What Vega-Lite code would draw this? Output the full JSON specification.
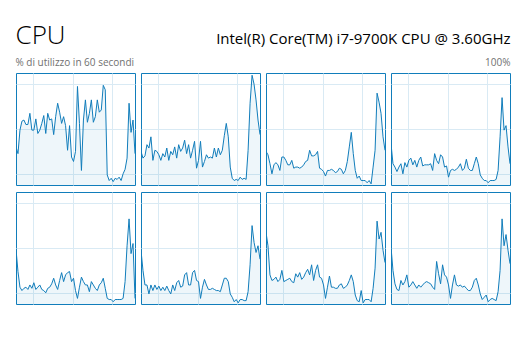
{
  "$schema": "https://vega.github.io/schema/vega-lite/v6.json",
  "background": "white",
  "padding": {"left": 15, "right": 23, "top": 22, "bottom": 5},
  "title": {
    "text": "CPU",
    "subtitle": "% di utilizzo in 60 secondi",
    "anchor": "start",
    "font": "Open Sans",
    "fontSize": 26,
    "fontWeight": 300,
    "color": "#000000",
    "subtitleFont": "Open Sans",
    "subtitleFontSize": 10,
    "subtitleColor": "#707070",
    "subtitlePadding": 8.6,
    "offset": 0,
    "dy": 36
  },
  "vconcat": [
    {
      "title": {
        "text": "Intel(R) Core(TM) i7-9700K CPU @ 3.60GHz",
        "subtitle": "100%",
        "anchor": "end",
        "font": "Open Sans",
        "fontSize": 15,
        "fontWeight": "normal",
        "color": "#000000",
        "subtitleFont": "Open Sans",
        "subtitleFontSize": 10,
        "subtitleColor": "#707070",
        "subtitlePadding": 11,
        "offset": 5
      },
      "data": {
        "values": [
          {"t":0,"c1":34,"c2":30,"c3":30,"c4":37,"c5":49,"c6":48,"c7":64,"c8":51},
          {"t":1,"c1":28,"c2":24,"c3":27,"c4":19,"c5":29,"c6":30,"c7":52,"c8":30},
          {"t":2,"c1":49,"c2":26,"c3":19,"c4":16,"c5":15,"c6":17,"c7":26,"c8":18},
          {"t":3,"c1":57,"c2":36,"c3":10,"c4":12,"c5":12,"c6":17,"c7":21,"c8":13},
          {"t":4,"c1":58,"c2":33,"c3":18,"c4":16,"c5":14,"c6":9,"c7":22,"c8":12},
          {"t":5,"c1":54,"c2":43,"c3":20,"c4":19,"c5":15,"c6":17,"c7":24,"c8":21},
          {"t":6,"c1":54,"c2":22,"c3":18,"c4":10,"c5":13,"c6":12,"c7":20,"c8":17},
          {"t":7,"c1":64,"c2":31,"c3":13,"c4":20,"c5":17,"c6":17,"c7":22,"c8":20},
          {"t":8,"c1":49,"c2":30,"c3":25,"c4":16,"c5":14,"c6":13,"c7":30,"c8":26},
          {"t":9,"c1":49,"c2":27,"c3":25,"c4":22,"c5":19,"c6":16,"c7":20,"c8":15},
          {"t":10,"c1":59,"c2":22,"c3":22,"c4":24,"c5":13,"c6":12,"c7":21,"c8":17},
          {"t":11,"c1":46,"c2":28,"c3":18,"c4":18,"c5":15,"c6":15,"c7":22,"c8":20},
          {"t":12,"c1":49,"c2":25,"c3":18,"c4":22,"c5":17,"c6":12,"c7":23,"c8":17},
          {"t":13,"c1":55,"c2":33,"c3":22,"c4":16,"c5":13,"c6":16,"c7":20,"c8":14},
          {"t":14,"c1":62,"c2":22,"c3":15,"c4":22,"c5":12,"c6":12,"c7":19,"c8":17},
          {"t":15,"c1":46,"c2":30,"c3":16,"c4":25,"c5":10,"c6":9,"c7":27,"c8":15},
          {"t":16,"c1":64,"c2":27,"c3":16,"c4":17,"c5":14,"c6":17,"c7":24,"c8":17},
          {"t":17,"c1":58,"c2":34,"c3":15,"c4":18,"c5":15,"c6":12,"c7":28,"c8":19},
          {"t":18,"c1":59,"c2":24,"c3":16,"c4":18,"c5":18,"c6":19,"c7":22,"c8":20},
          {"t":19,"c1":45,"c2":36,"c3":18,"c4":18,"c5":23,"c6":21,"c7":24,"c8":19},
          {"t":20,"c1":61,"c2":30,"c3":21,"c4":19,"c5":17,"c6":15,"c7":28,"c8":18},
          {"t":21,"c1":73,"c2":33,"c3":22,"c4":13,"c5":13,"c6":16,"c7":31,"c8":15},
          {"t":22,"c1":65,"c2":40,"c3":31,"c4":28,"c5":21,"c6":26,"c7":26,"c8":13},
          {"t":23,"c1":55,"c2":28,"c3":26,"c4":22,"c5":28,"c6":28,"c7":35,"c8":38},
          {"t":24,"c1":61,"c2":36,"c3":26,"c4":19,"c5":20,"c6":17,"c7":21,"c8":27},
          {"t":25,"c1":53,"c2":24,"c3":27,"c4":27,"c5":26,"c6":17,"c7":30,"c8":18},
          {"t":26,"c1":31,"c2":31,"c3":30,"c4":25,"c5":28,"c6":28,"c7":35,"c8":35},
          {"t":27,"c1":53,"c2":39,"c3":15,"c4":16,"c5":29,"c6":30,"c7":24,"c8":26},
          {"t":28,"c1":25,"c2":15,"c3":14,"c4":17,"c5":20,"c6":21,"c7":23,"c8":24},
          {"t":29,"c1":21,"c2":22,"c3":12,"c4":7,"c5":23,"c6":20,"c7":17,"c8":17},
          {"t":30,"c1":30,"c2":39,"c3":8,"c4":13,"c5":12,"c6":5,"c7":5,"c8":5},
          {"t":31,"c1":88,"c2":16,"c3":13,"c4":14,"c5":5,"c6":15,"c7":15,"c8":17},
          {"t":32,"c1":55,"c2":21,"c3":13,"c4":13,"c5":15,"c6":22,"c7":25,"c8":26},
          {"t":33,"c1":13,"c2":27,"c3":14,"c4":14,"c5":24,"c6":17,"c7":15,"c8":17},
          {"t":34,"c1":58,"c2":24,"c3":13,"c4":16,"c5":20,"c6":13,"c7":15,"c8":16},
          {"t":35,"c1":76,"c2":25,"c3":11,"c4":19,"c5":17,"c6":13,"c7":14,"c8":17},
          {"t":36,"c1":56,"c2":24,"c3":12,"c4":13,"c5":17,"c6":14,"c7":14,"c8":15},
          {"t":37,"c1":64,"c2":33,"c3":15,"c4":15,"c5":11,"c6":13,"c7":17,"c8":16},
          {"t":38,"c1":76,"c2":25,"c3":14,"c4":23,"c5":20,"c6":12,"c7":18,"c8":14},
          {"t":39,"c1":56,"c2":33,"c3":10,"c4":15,"c5":17,"c6":12,"c7":14,"c8":12},
          {"t":40,"c1":61,"c2":27,"c3":13,"c4":13,"c5":14,"c6":11,"c7":15,"c8":12},
          {"t":41,"c1":76,"c2":31,"c3":21,"c4":13,"c5":12,"c6":17,"c7":17,"c8":15},
          {"t":42,"c1":65,"c2":44,"c3":34,"c4":19,"c5":17,"c6":23,"c7":21,"c8":21},
          {"t":43,"c1":67,"c2":55,"c3":47,"c4":25,"c5":19,"c6":23,"c7":26,"c8":23},
          {"t":44,"c1":89,"c2":43,"c3":28,"c4":19,"c5":23,"c6":20,"c7":20,"c8":17},
          {"t":45,"c1":85,"c2":16,"c3":13,"c4":9,"c5":14,"c6":9,"c7":8,"c8":9},
          {"t":46,"c1":9,"c2":6,"c3":6,"c4":6,"c5":5,"c6":6,"c7":3,"c8":4},
          {"t":47,"c1":4,"c2":4,"c3":8,"c4":4,"c5":4,"c6":2,"c7":2,"c8":6},
          {"t":48,"c1":6,"c2":5,"c3":4,"c4":4,"c5":4,"c6":4,"c7":12,"c8":8},
          {"t":49,"c1":3,"c2":4,"c3":4,"c4":2,"c5":2,"c6":1,"c7":1,"c8":2},
          {"t":50,"c1":6,"c2":7,"c3":4,"c4":4,"c5":4,"c6":4,"c7":4,"c8":4},
          {"t":51,"c1":5,"c2":5,"c3":2,"c4":4,"c5":4,"c6":4,"c7":4,"c8":5},
          {"t":52,"c1":7,"c2":6,"c3":4,"c4":4,"c5":4,"c6":3,"c7":4,"c8":4},
          {"t":53,"c1":4,"c2":5,"c3":1,"c4":5,"c5":4,"c6":3,"c7":2,"c8":3},
          {"t":54,"c1":10,"c2":31,"c3":16,"c4":13,"c5":5,"c6":11,"c7":14,"c8":11},
          {"t":55,"c1":14,"c2":73,"c3":31,"c4":43,"c5":20,"c6":35,"c7":32,"c8":30},
          {"t":56,"c1":24,"c2":98,"c3":82,"c4":78,"c5":52,"c6":70,"c7":74,"c8":76},
          {"t":57,"c1":73,"c2":90,"c3":74,"c4":49,"c5":76,"c6":55,"c7":58,"c8":52},
          {"t":58,"c1":47,"c2":76,"c3":64,"c4":53,"c5":45,"c6":46,"c7":64,"c8":62},
          {"t":59,"c1":58,"c2":58,"c3":43,"c4":34,"c5":54,"c6":52,"c7":48,"c8":48},
          {"t":60,"c1":28,"c2":45,"c3":31,"c4":19,"c5":5,"c6":40,"c7":37,"c8":36}
        ]
      },
      "repeat": ["c1","c2","c3","c4","c5","c6","c7","c8"],
      "columns": 4,
      "spacing": {"row": 5, "column": 4},
      "spec": {
        "width": 119,
        "height": 112,
        "layer": [
          {
            "mark": {"type": "area", "color": "#117dbb", "fillOpacity": 0.07, "clip": true},
            "encoding": {
              "x": {"field": "t", "type": "quantitative", "scale": {"domain": [0, 60], "nice": false, "zero": false},
                    "axis": {"values": [8.5, 18.5, 28.5, 38.5, 48.5, 58.5], "title": null}},
              "y": {"field": {"repeat": "repeat"}, "type": "quantitative", "scale": {"domain": [0, 100], "nice": false},
                    "axis": {"values": [10, 20, 30, 40, 50, 60, 70, 80, 90], "title": null}}
            }
          },
          {
            "mark": {"type": "line", "color": "#117dbb", "strokeWidth": 1, "clip": true},
            "encoding": {
              "x": {"field": "t", "type": "quantitative"},
              "y": {"field": {"repeat": "repeat"}, "type": "quantitative"}
            }
          }
        ]
      }
    }
  ],
  "config": {
    "font": "Open Sans",
    "view": {"stroke": "#117dbb", "strokeWidth": 1},
    "axis": {"domain": false, "ticks": false, "labels": false, "grid": true, "gridColor": "#d9eaf4", "gridOpacity": 1, "gridWidth": 1, "minExtent": 0}
  }
}
